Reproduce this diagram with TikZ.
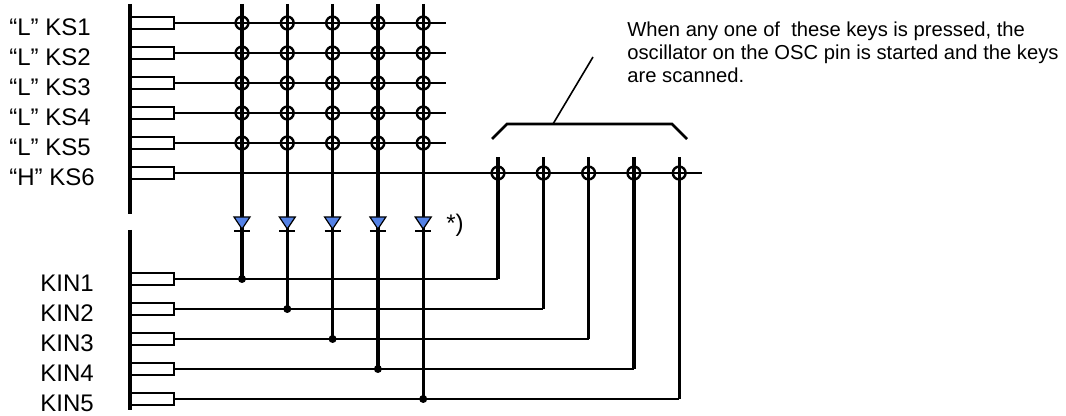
\documentclass[tikz,border=0pt]{standalone}
\usepackage{fontspec}
\setmainfont{Liberation Sans}
\usetikzlibrary{positioning}
\definecolor{diodeblue}{RGB}{84,130,230}
\tikzset{
pin/.style={ % Port box sitting on the chip edge
draw, line width=1pt, fill=white, anchor=west,
minimum width=21.5pt, minimum height=6.3pt, inner sep=0pt},
lbl/.style={anchor=base west, inner sep=0pt, font=\fontsize{12}{14}\selectfont},
note/.style={anchor=north west, inner sep=0pt, align=left,
font=\fontsize{10.1}{11.5}\selectfont},
xing/.style={ % Key contact at a crossing
circle, draw, line width=1.2pt, minimum size=6.4pt, inner sep=0pt},
dot/.style={circle, fill, minimum size=4pt, inner sep=0pt},
wire/.style={line width=1pt},
column/.style={line width=1.6pt}}

\begin{document}
\begin{tikzpicture}[x=0.5pt, y=-0.5pt]
	\useasboundingbox (0,0) rectangle (1066,416);
	% chip edge
	\coordinate (edge1) at (130,4);
	\coordinate (edge2) at (130,214);
	\coordinate (edge3) at (130,230);
	\coordinate (edge4) at (130,410);
	\draw[column] (edge1) -- (edge2) (edge3) -- (edge4);
	% key scan outputs
	\foreach \i in {1,...,5} {
		\node[pin] (ks\i) at (130,{23+30*(\i-1)}) {};
		\node[lbl] (ksl\i) at (9,{36+30*(\i-1)}) {“L” KS\i};
		\coordinate (ksr\i) at (446,{23+30*(\i-1)});
		\draw[wire] (ks\i.east) -- (ksr\i);
	}
	\node[pin] (ks6) at (130,173) {};
	\node[lbl] (ksl6) at (9,186) {“H” KS6};
	\coordinate (ksr6) at (702,173);
	\draw[wire] (ks6.east) -- (ksr6);
	% key inputs
	\foreach \i in {1,...,5} {
		\node[pin] (kin\i) at (130,{279+30*(\i-1)}) {};
		\node[lbl] (kinl\i) at (40,{292+30*(\i-1)}) {KIN\i};
	}
	% matrix columns with diodes
	\foreach \j in {1,...,5} {
		\pgfmathsetmacro{\cx}{242+45.3*(\j-1)}
		\coordinate (col\j) at (\cx,4);
		\node[dot] (tap\j) at (\cx,{279+30*(\j-1)}) {};
		\draw[column] (col\j) -- (tap\j.center);
		\foreach \i in {1,...,5}
			\node[xing] (k\i\j) at (\cx,{23+30*(\i-1)}) {};
		\filldraw[fill=diodeblue, line width=0.6pt] (\cx-8,217) -- (\cx+8,217) -- (\cx,229) -- cycle;
		\draw[line width=1.4pt] (\cx-8,231) -- (\cx+8,231);
	}
	\node[lbl] (star) at (446,232) {*)};
	% wake-up keys on KS6
	\foreach \j in {1,...,5} {
		\pgfmathsetmacro{\rx}{498+45.3*(\j-1)}
		\coordinate (up\j) at (\rx,157);
		\coordinate (bend\j) at (\rx,{279+30*(\j-1)});
		\draw[wire] (kin\j.east) -- (bend\j);
		\draw[column] (bend\j) -- (up\j);
		\node[xing] (sw\j) at (\rx,173) {};
	}
	% bracket and remark
	\coordinate (br1) at (492,139);
	\coordinate (br2) at (507,124);
	\coordinate (br3) at (672,124);
	\coordinate (br4) at (687,139);
	\draw[line width=1.3pt] (br1) -- (br2) -- (br3) -- (br4);
	\coordinate (ptr) at (553,124);
	\coordinate (ptrtop) at (593,57);
	\draw[line width=0.8pt] (ptr) -- (ptrtop);
	\node[note] (remark) at (627,21.5) {When any one of~ these keys is pressed, the\\
		oscillator on the OSC pin is started and the keys\\
		are scanned.};
\end{tikzpicture}
\end{document}
